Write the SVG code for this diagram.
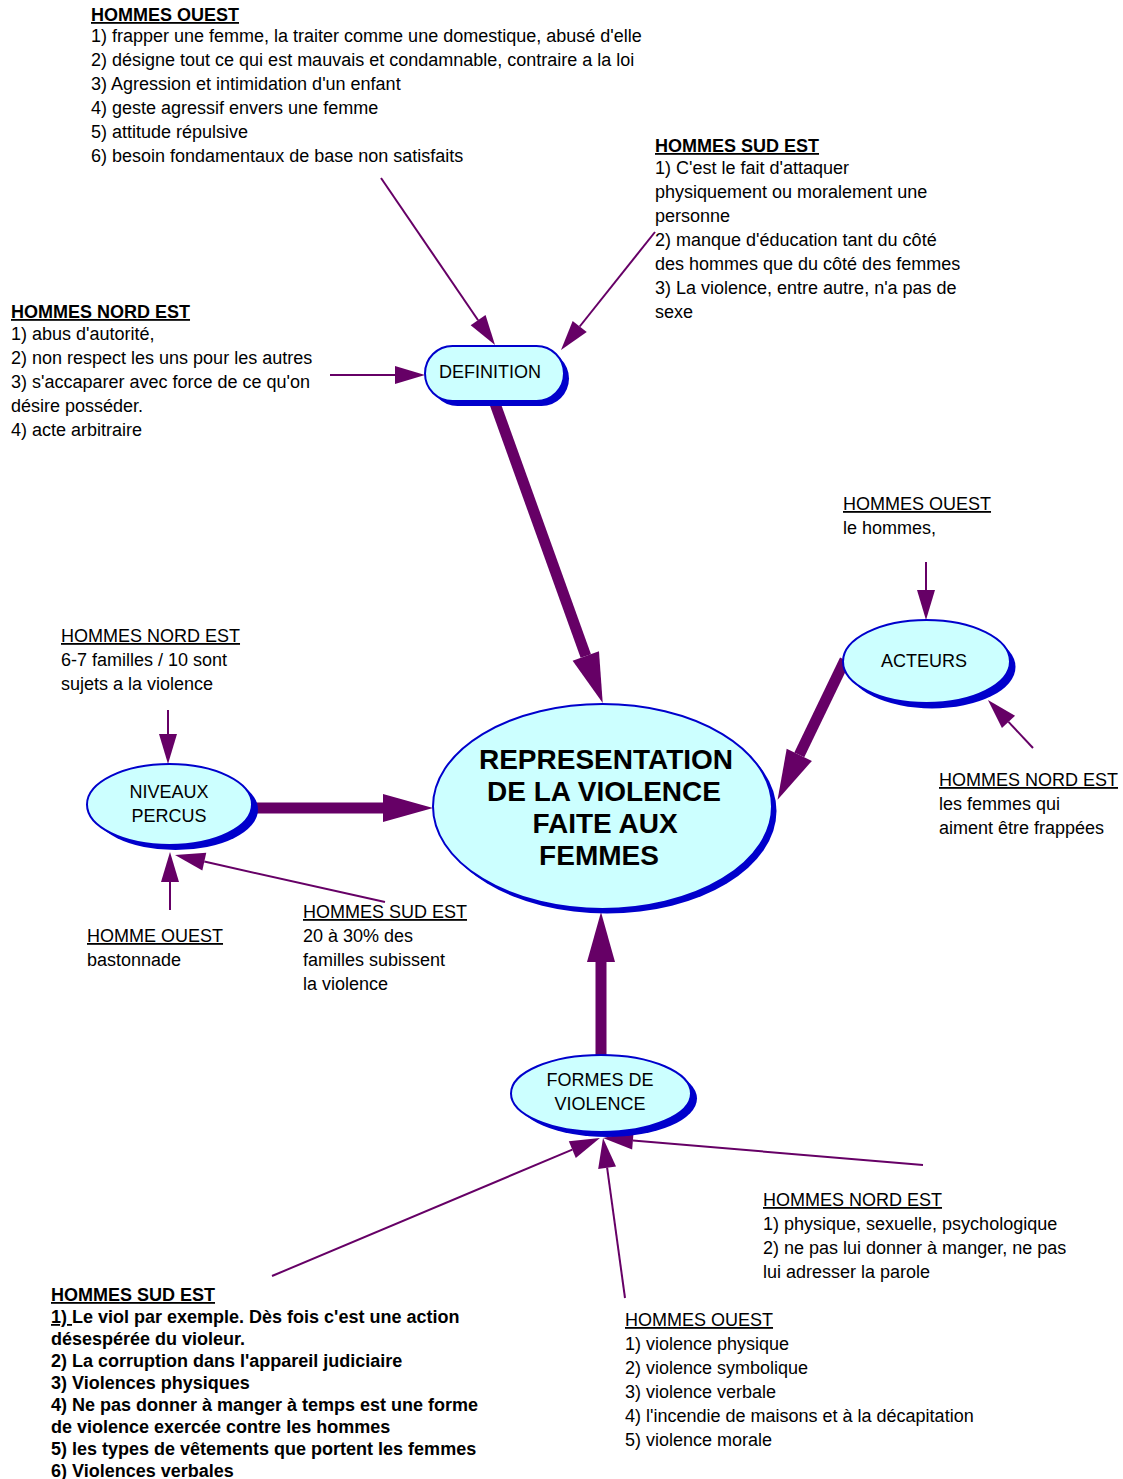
<svg xmlns="http://www.w3.org/2000/svg" width="1123" height="1479" viewBox="0 0 1123 1479">
<style>
text{font-family:"Liberation Sans",Arial,sans-serif;font-size:18px;fill:#000}
.h{font-weight:bold;text-decoration:underline}
.u{text-decoration:underline}
.b{font-weight:bold}
.node{font-size:18px;text-anchor:middle}
.main{font-size:28px;font-weight:bold;text-anchor:middle}
.shape{fill:#CCFFFF;stroke:#0000CC;stroke-width:2}
.shadow{fill:#0000CC}
.thin{stroke:#660066;stroke-width:2;fill:none;marker-end:url(#ah)}
.thick{stroke:#660066;stroke-width:11;fill:none;marker-end:url(#AH)}
</style>
<defs>
<marker id="ah" markerUnits="userSpaceOnUse" markerWidth="30" markerHeight="18" refX="0" refY="9" orient="auto" overflow="visible"><path d="M0,0 L30,9 L0,18 z" fill="#660066"/></marker>
<marker id="AH" markerUnits="userSpaceOnUse" markerWidth="50" markerHeight="28" refX="0" refY="14" orient="auto" overflow="visible"><path d="M0,0 L50,14 L0,28 z" fill="#660066"/></marker>
</defs>
<rect width="1123" height="1479" fill="#fff"/>
<g id="connectors">
<line class="thick" x1="493" y1="398" x2="585.8" y2="656"/>
<line class="thick" x1="845" y1="660" x2="799.3" y2="754.8"/>
<line class="thick" x1="250" y1="808" x2="383" y2="808"/>
<line class="thick" x1="601" y1="1058" x2="601" y2="962"/>
<line class="thin" x1="381" y1="178" x2="478.1" y2="320.2"/>
<line class="thin" x1="655" y1="232" x2="579.7" y2="326.5"/>
<line class="thin" x1="330" y1="375" x2="395" y2="375"/>
<line class="thin" x1="926" y1="562" x2="926" y2="590"/>
<line class="thin" x1="1033" y1="748" x2="1008.5" y2="721.9"/>
<line class="thin" x1="168" y1="710" x2="168" y2="734"/>
<line class="thin" x1="170" y1="910" x2="170" y2="882"/>
<line class="thin" x1="385" y1="902" x2="204.3" y2="861.6"/>
<line class="thin" x1="272" y1="1276" x2="572.3" y2="1149.6"/>
<line class="thin" x1="625" y1="1298" x2="607.1" y2="1167.7"/>
<line class="thin" x1="923" y1="1165" x2="632.9" y2="1140.5"/>
</g>
<g id="center">
<ellipse class="shadow" cx="607" cy="811" rx="169.5" ry="102.5"/>
<ellipse class="shape" cx="602.5" cy="806.5" rx="169.5" ry="102.5"/>
<text class="main" x="606" y="769">REPRESENTATION</text>
<text class="main" x="604" y="801">DE LA VIOLENCE</text>
<text class="main" x="605" y="833">FAITE AUX</text>
<text class="main" x="599" y="865">FEMMES</text>
</g>
<g id="definition">
<rect class="shadow" x="430" y="351" width="139" height="55" rx="27.5"/>
<rect class="shape" x="425" y="346" width="139" height="55" rx="27.5"/>
<text class="node" x="490" y="378">DEFINITION</text>
</g>
<g id="niveaux">
<ellipse class="shadow" cx="175.5" cy="809.5" rx="82.5" ry="40.5"/>
<ellipse class="shape" cx="169.5" cy="804.5" rx="82.5" ry="40.5"/>
<text class="node" x="169" y="798">NIVEAUX</text>
<text class="node" x="169" y="822">PERCUS</text>
</g>
<g id="acteurs">
<ellipse class="shadow" cx="932" cy="667" rx="83.5" ry="41.5"/>
<ellipse class="shape" cx="926.5" cy="661.5" rx="83.5" ry="41.5"/>
<text class="node" x="924" y="667">ACTEURS</text>
</g>
<g id="formes">
<ellipse class="shadow" cx="607" cy="1098.5" rx="90" ry="38.5"/>
<ellipse class="shape" cx="601" cy="1093.5" rx="90" ry="38.5"/>
<text class="node" x="600" y="1086">FORMES DE</text>
<text class="node" x="600" y="1110">VIOLENCE</text>
</g>
<g id="def-ouest">
<text class="h" x="91" y="21">HOMMES OUEST</text>
<text x="91" y="42">1) frapper une femme, la traiter comme une domestique, abusé d'elle</text>
<text x="91" y="66">2) désigne tout ce qui est mauvais et condamnable, contraire a la loi</text>
<text x="91" y="90">3) Agression et intimidation d'un enfant</text>
<text x="91" y="114">4) geste agressif envers une femme</text>
<text x="91" y="138">5) attitude répulsive</text>
<text x="91" y="162">6) besoin fondamentaux de base non satisfaits</text>
</g>
<g id="def-sudest">
<text class="h" x="655" y="152">HOMMES SUD EST</text>
<text x="655" y="174">1) C'est le fait d'attaquer</text>
<text x="655" y="198">physiquement ou moralement une</text>
<text x="655" y="222">personne</text>
<text x="655" y="246">2) manque d'éducation tant du côté</text>
<text x="655" y="270">des hommes que du côté des femmes</text>
<text x="655" y="294">3) La violence, entre autre, n'a pas de</text>
<text x="655" y="318">sexe</text>
</g>
<g id="def-nordest">
<text class="h" x="11" y="318">HOMMES NORD EST</text>
<text x="11" y="340">1) abus d'autorité,</text>
<text x="11" y="364">2) non respect les uns pour les autres</text>
<text x="11" y="388">3) s'accaparer avec force de ce qu'on</text>
<text x="11" y="412">désire posséder.</text>
<text x="11" y="436">4) acte arbitraire</text>
</g>
<g id="act-ouest">
<text class="u" x="843" y="510">HOMMES OUEST</text>
<text x="843" y="534">le hommes,</text>
</g>
<g id="act-nordest">
<text class="u" x="939" y="786">HOMMES NORD EST</text>
<text x="939" y="810">les femmes qui</text>
<text x="939" y="834">aiment être frappées</text>
</g>
<g id="niv-nordest">
<text class="u" x="61" y="642">HOMMES NORD EST</text>
<text x="61" y="666">6-7 familles / 10 sont</text>
<text x="61" y="690">sujets a la violence</text>
</g>
<g id="niv-ouest">
<text class="u" x="87" y="942">HOMME OUEST</text>
<text x="87" y="966">bastonnade</text>
</g>
<g id="niv-sudest">
<text class="u" x="303" y="918">HOMMES SUD EST</text>
<text x="303" y="942">20 à 30% des</text>
<text x="303" y="966">familles subissent</text>
<text x="303" y="990">la violence</text>
</g>
<g id="for-nordest">
<text class="u" x="763" y="1206">HOMMES NORD EST</text>
<text x="763" y="1230">1) physique, sexuelle, psychologique</text>
<text x="763" y="1254">2) ne pas lui donner à manger, ne pas</text>
<text x="763" y="1278">lui adresser la parole</text>
</g>
<g id="for-ouest">
<text class="u" x="625" y="1326">HOMMES OUEST</text>
<text x="625" y="1350">1) violence physique</text>
<text x="625" y="1374">2) violence symbolique</text>
<text x="625" y="1398">3) violence verbale</text>
<text x="625" y="1422">4) l'incendie de maisons et à la décapitation</text>
<text x="625" y="1446">5) violence morale</text>
</g>
<g id="for-sudest">
<text class="h" x="51" y="1301">HOMMES SUD EST</text>
<text class="b" x="51" y="1323"><tspan class="u">1) </tspan>Le viol par exemple. Dès fois c'est une action</text>
<text class="b" x="51" y="1345">désespérée du violeur.</text>
<text class="b" x="51" y="1367">2) La corruption dans l'appareil judiciaire</text>
<text class="b" x="51" y="1389">3) Violences physiques</text>
<text class="b" x="51" y="1411">4) Ne pas donner à manger à temps est une forme</text>
<text class="b" x="51" y="1433">de violence exercée contre les hommes</text>
<text class="b" x="51" y="1455">5) les types de vêtements que portent les femmes</text>
<text class="b" x="51" y="1477">6) Violences verbales</text>
</g>
</svg>
